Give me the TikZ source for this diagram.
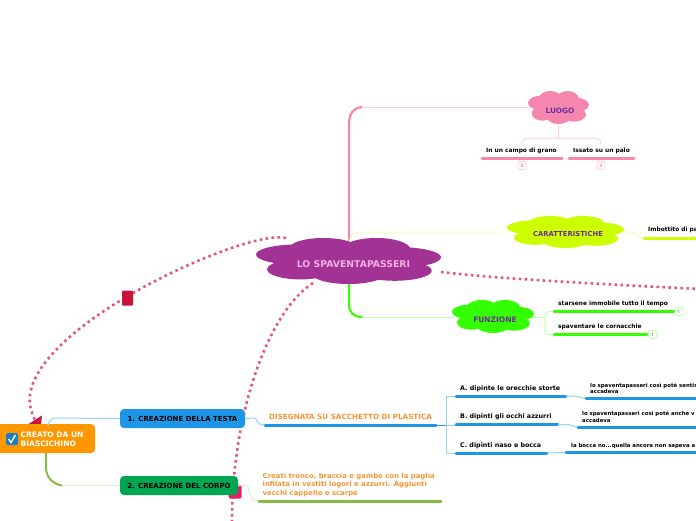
\documentclass[tikz,border=0pt]{standalone}
\usepackage{fontspec}
\setmainfont{DejaVu Sans}
\usetikzlibrary{calc}
\definecolor{cPurple}{HTML}{A33295}
\definecolor{cPink}{HTML}{F587AE}
\definecolor{cPinkL}{HTML}{FBD3E2}
\definecolor{cLime}{HTML}{CCFF00}
\definecolor{cLimeL}{HTML}{F1FFB8}
\definecolor{cGreen}{HTML}{33FF00}
\definecolor{cGreenL}{HTML}{BFFFB0}
\definecolor{cBlue}{HTML}{1E96E8}
\definecolor{cBlueL}{HTML}{95D2F8}
\definecolor{cOrange}{HTML}{FF9800}
\definecolor{cTextO}{HTML}{F79433}
\definecolor{cDark}{HTML}{00A651}
\definecolor{cOlive}{HTML}{86BC41}
\definecolor{cOliveL}{HTML}{DCEDC8}
\definecolor{cDots}{HTML}{E25585}
\definecolor{cViolet}{HTML}{6A2C9E}
\definecolor{cCrimson}{HTML}{C8143C}
\definecolor{cMagenta}{HTML}{E91E63}
\definecolor{cMainText}{HTML}{F0B0E0}
\tikzset{
  x=1pt,y=-1pt,
  lbl/.style={inner sep=0pt,font=\fontsize{5.9}{8}\selectfont\bfseries,text=black},
  lblbig/.style={inner sep=0pt,font=\fontsize{6.35}{8}\selectfont\bfseries,text=black},
  small/.style={inner sep=0pt,font=\fontsize{5.4}{7}\selectfont\bfseries,text=black,align=left},
  cloudlbl/.style={inner sep=0pt,font=\fontsize{#1}{8}\selectfont\bfseries,text=cViolet},
  bar/.style={line width=3pt,line cap=round},
  thin link/.style={line width=1pt,rounded corners=6pt},
  dots/.style={cDots,line width=2.6pt,dash pattern=on 2.6pt off 3.4pt},
  tag/.style={draw=#1,fill=white,rounded corners=1.5pt,line width=.9pt,minimum size=8pt,inner sep=0pt,font=\fontsize{4.5}{5}\selectfont\bfseries},
  box/.style={rounded corners=4pt,inner sep=0pt,font=\fontsize{7}{8}\selectfont\bfseries,text=black},
}
% cloud: centre x, centre y, half width, half height, colour
\newcommand{\mycloud}[5]{%
  \begin{scope}[shift={(#1,#2)},x=#3pt,y=-#4pt]
    \fill[#5] (0,0) ellipse[x radius=.78,y radius=.74];
    \fill[#5] (-.55,-.28) ellipse[x radius=.45,y radius=.44];
    \fill[#5] (-.27,-.58) ellipse[x radius=.36,y radius=.42];
    \fill[#5] (.30,-.50) ellipse[x radius=.37,y radius=.5];
    \fill[#5] (.55,-.16) ellipse[x radius=.45,y radius=.44];
    \fill[#5] (.50,.42) ellipse[x radius=.40,y radius=.44];
    \fill[#5] (.0,.54) ellipse[x radius=.40,y radius=.46];
    \fill[#5] (-.52,.36) ellipse[x radius=.36,y radius=.44];
  \end{scope}}
\begin{document}
\begin{tikzpicture}
\useasboundingbox (0,0) rectangle (696,520);
\clip (0,0) rectangle (696,520);

% anchors of the clouds
\coordinate (mainTop) at (349,242);
\coordinate (mainBot) at (349,282);
\coordinate (luogoW) at (530,107);
\coordinate (luogoS) at (558,123);
\coordinate (caratW) at (509,232);
\coordinate (caratE) at (622,232);
\coordinate (funzW) at (454,317);
\coordinate (funzE) at (532,317);

% trunk connectors of the central cloud
\draw[cPinkL,line width=1pt] (360,107) -- (luogoW);
\draw[cPink,line width=2.2pt] (mainTop) -- (349,124) .. controls (349,114) and (353,108) .. (362,107);
\draw[cLimeL,line width=1pt] (mainTop) .. controls (350,236) and (354,232) .. (362,232) -- (caratW);
\draw[cGreenL,line width=1pt] (358,317) -- (funzW);
\draw[cGreen,line width=2pt] (mainBot) -- (349,304) .. controls (349,312) and (353,317) .. (362,317);

% LUOGO branch
\coordinate (luogoJ) at (558,138);
\draw[cPinkL,line width=1pt] (luogoS) -- (luogoJ);
\draw[cPinkL,thin link] (522,144) -- (522,138) -- (601,138) -- (601,144);
\node[lbl] (campo) at (521.5,150.5) {In un campo di grano};
\node[lbl] (palo) at (601.5,150.5) {Issato su un palo};
\draw[bar,cPink] (482,158) coordinate (campoL) -- (562,158);
\draw[bar,cPink] (569,158) coordinate (paloL) -- (634,158);
\node[tag=cPinkL,text=cPink] (tagA) at (522,165.5) {3};
\node[tag=cPinkL,text=cPink] (tagB) at (601,165.5) {3};

% CARATTERISTICHE branch
\node[lbl,anchor=west] (imb) at (648,230) {Imbottito di pa};
\draw[cLimeL,line width=1pt] (caratE) -- (632,232) .. controls (637,232) and (635,238) .. (643,238);
\draw[bar,cLime] (644,238) coordinate (imbL) -- (700,238);

% FUNZIONE branch
\coordinate (funzJ) at (545,317);
\draw[cGreenL,line width=1pt] (funzE) -- (funzJ);
\draw[cGreenL,thin link,rounded corners=4pt] (553,311.5) -- (545,311.5) -- (545,334.5) -- (553,334.5);
\node[lbl,anchor=west] (star) at (558,303.5) {starsene immobile tutto il tempo};
\node[lbl,anchor=west] (spav) at (558,326.5) {spaventare le cornacchie};
\draw[bar,cGreen] (554,311.5) coordinate (starL) -- (674,311.5);
\draw[bar,cGreen] (554,334.5) coordinate (spavL) -- (647,334.5);
\node[tag=cGreenL,text=cGreen!70!black] (tagC) at (679,311.5) {!};
\node[tag=cGreenL,text=cGreen!70!black] (tagD) at (652.5,334.5) {!};

% clouds
\mycloud{348.5}{261}{92.5}{23}{cPurple}
\mycloud{558.5}{107.5}{30.5}{16.5}{cPink}
\mycloud{565.5}{232}{58.5}{16}{cLime}
\mycloud{493}{316.5}{41}{16.5}{cGreen}
\node[inner sep=0pt,font=\fontsize{9.3}{9}\selectfont\bfseries,text=cMainText] (main) at (353.5,264) {LO SPAVENTAPASSERI};
\node[cloudlbl=7.3] (luogo) at (560,110.5) {LUOGO};
\node[cloudlbl=6.85] (carat) at (568,234.5) {CARATTERISTICHE};
\node[cloudlbl=7.5] (funz) at (495,319.5) {FUNZIONE};

% dotted relationships
\coordinate (dotR) at (441,272);
\coordinate (dotRe) at (700,289);
\draw[dots] (dotR) .. controls (500,279) and (600,284) .. (dotRe);
\coordinate (dotL) at (286,238);
\coordinate (arrowTip) at (35,420);
\draw[dots] (dotL) .. controls (250,228) and (40,320) .. (30,395) .. controls (29,405) and (31,412) .. (arrowTip);
\coordinate (dotB) at (313,283);
\coordinate (dotBe) at (232,522);
\draw[dots] (dotB) .. controls (270,310) and (232,410) .. (dotBe);
\node[fill=cCrimson,rounded corners=1pt,minimum width=11pt,minimum height=15pt,inner sep=0pt] (sq1) at (127.5,298) {};
\fill[cCrimson] (42,415.5) -- (28.5,424) -- (41,424.5) -- cycle;

% bottom-left map
\node[fill=cOrange,rounded corners=4pt,minimum width=98pt,minimum height=29pt,inner sep=0pt] (root) at (46,438.5) {};
\node[anchor=west,inner sep=0pt,align=left,text=white,font=\fontsize{7.5}{9}\selectfont\bfseries] (rootT) at (20.5,439.5) {CREATO DA UN\\BIASCICHINO};
\node[fill=cBlue!85!black,rounded corners=1.5pt,minimum size=12pt,inner sep=0pt] (chk) at (12,439) {};
\draw[white,line width=1.4pt] (8.5,439) -- (11,442.5) -- (15.5,435);
\node[box,fill=cBlue,minimum width=125pt,minimum height=19pt] (n1) at (182.5,418.5) {1. CREAZIONE DELLA TESTA};
\node[fill=cMagenta,rounded corners=1.5pt,minimum width=13pt,minimum height=14pt,inner sep=0pt] (sq2) at (235,491.5) {};
\node[box,fill=cDark,minimum width=118pt,minimum height=19pt] (n2) at (179,485.5) {2. CREAZIONE DEL CORPO};
\draw[cBlueL,line width=1pt,rounded corners=8pt] (48,424) -- (48,418) -- (n1.west);
\draw[cOliveL,line width=1pt] (60,485.5) -- (n2.west);
\draw[cOlive,line width=2pt] (46,453) -- (46,468) .. controls (46,476) and (52,484) .. (62,485.5);

\draw[cBlueL,line width=1pt] (n1.east) -- (254,418) .. controls (258,418) and (256,425) .. (264,425);
\node[inner sep=0pt,font=\fontsize{7.2}{8}\selectfont\bfseries,text=cTextO] (dis) at (350.5,417) {DISEGNATA SU SACCHETTO DI PLASTICA};
\draw[bar,cBlue] (265,425) coordinate (disL) -- (436,425) coordinate (disR);
\draw[cBlue,line width=1pt] (disR) -- (446,425) coordinate (disJ);
\draw[cBlueL,line width=1pt] (456,396) -- (446,396) -- (446,453) -- (456,453);
\draw[cBlueL,line width=1pt] (disJ) -- (456,425);

\node[lblbig,anchor=west] (a) at (460,388.5) {A. dipinte le orecchie storte};
\node[lblbig,anchor=west] (b) at (460,416.5) {B. dipinti gli occhi azzurri};
\node[lblbig,anchor=west] (c) at (460,445.5) {C. dipinti naso e bocca};
\draw[bar,cBlue] (456,396) coordinate (aL) -- (566,396) coordinate (aR);
\draw[bar,cBlue] (456,424.5) coordinate (bL) -- (558,424.5) coordinate (bR);
\draw[bar,cBlue] (456,453) coordinate (cL) -- (547,453) coordinate (cR);
\draw[cBlueL,line width=1pt] (aR) -- (575,396) -- (585,398.5);
\draw[cBlueL,line width=1pt] (bR) -- (568,424.5) -- (577,427);
\draw[cBlueL,line width=1pt] (cR) -- (565,452.5);
\node[small,anchor=west] (a2) at (590,388.5) {lo spaventapasseri così potè sentir\\[-.5pt]accadeva};
\node[small,anchor=west] (b2) at (582,416.5) {lo spaventapasseri così potè anche v\\[.2pt]accadeva};
\node[small,anchor=west] (c2) at (571,446) {la bocca no...quella ancora non sapeva a};
\draw[bar,cBlue] (586,398.5) coordinate (a2L) -- (700,398.5);
\draw[bar,cBlue] (578,427) coordinate (b2L) -- (700,427);
\draw[bar,cBlue] (566,452.5) coordinate (c2L) -- (700,452.5);

\draw[cOliveL,line width=1pt] (n2.east) -- (247,485.5) .. controls (250,485.5) and (247,501) .. (258,501);
\node[anchor=west,inner sep=0pt,align=left,font=\fontsize{6.9}{8.2}\selectfont\bfseries,text=cTextO] (cre) at (262.5,485) {Creati tronco, braccia e gambe con la paglia\\infilata in vestiti logori e azzurri. Aggiunti\\vecchi cappello e scarpe};
\draw[bar,cOlive] (259,501) coordinate (creL) -- (441,501);
\end{tikzpicture}
\end{document}
